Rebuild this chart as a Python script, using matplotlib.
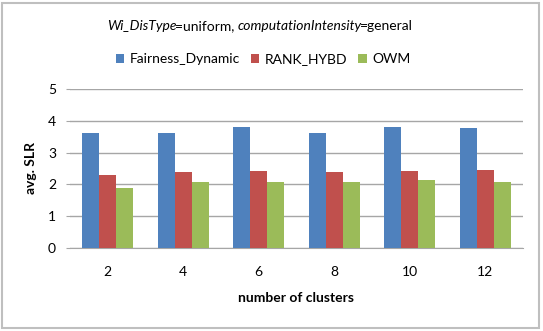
import matplotlib
matplotlib.use("Agg")
import matplotlib.pyplot as plt
import numpy as np
from matplotlib.patches import Rectangle

clusters = ["2", "4", "6", "8", "10", "12"]
fairness_dynamic = [3.63, 3.61, 3.82, 3.63, 3.80, 3.77]
rank_hybd = [2.31, 2.38, 2.43, 2.38, 2.42, 2.46]
owm = [1.89, 2.06, 2.08, 2.06, 2.13, 2.07]
series_names = ["Fairness_Dynamic", "RANK_HYBD", "OWM"]
colors = ["#4F81BD", "#C0504D", "#9BBB59"]

plt.rcParams['font.family'] = ['Lato', 'DejaVu Sans']

W, H = 543, 331
fig = plt.figure(figsize=(W / 100, H / 100), dpi=100)
fig.patch.set_facecolor("white")

# outer border
fig.add_artist(Rectangle((2 / W, 3 / H), 537 / W, 325 / H, transform=fig.transFigure,
                         fill=False, edgecolor="#BFBFBF", linewidth=1.5))

ax = fig.add_axes([70 / W, 1 - 248 / H, (523 - 70) / W, (248 - 89) / H])
x = np.arange(len(clusters))
bw = 0.225
data = [fairness_dynamic, rank_hybd, owm]
for i, (vals, c, n) in enumerate(zip(data, colors, series_names)):
    ax.bar(x + (i - 1) * bw, vals, bw, color=c, label=n, zorder=3)

ax.set_xlim(-0.5, len(clusters) - 0.5)
ax.set_ylim(0, 5)
ax.set_yticks(range(6))
ax.yaxis.grid(True, color="#A6A6A6", linewidth=1, zorder=0)
for s in ["top", "right", "left"]:
    ax.spines[s].set_visible(False)
ax.spines["bottom"].set_color("#A6A6A6")
ax.set_xticks(x)
ax.set_xticklabels(clusters)
ax.tick_params(axis="x", length=0, pad=13, labelsize=10)
ax.tick_params(axis="y", length=3, color="#A6A6A6", labelsize=10, pad=7)
ax.set_xlabel("number of clusters", fontweight="bold", fontsize=10, labelpad=10)
ax.set_ylabel("avg. SLR", fontweight="bold", fontsize=10, labelpad=8)

# title with mixed italic
parts = [("Wi_DisType", "italic"), ("=uniform, ", "normal"),
         ("computationIntensity", "italic"), ("=general", "normal")]
fig.canvas.draw()
r = fig.canvas.get_renderer()
texts = []
total = 0
for s, st in parts:
    t = fig.text(0, 1 - 26 / H, s, fontstyle=st, fontsize=10, va="center", ha="left")
    w = t.get_window_extent(r).width
    if st == "italic":
        w -= 1.5
    texts.append((t, w))
    total += w
cx = 260 - total / 2
for t, w in texts:
    t.set_x(cx / W)
    cx += w

leg = fig.legend(loc="center", bbox_to_anchor=(263 / W, 1 - 59 / H), ncol=3,
                 frameon=False, fontsize=10, handlelength=0.6, handleheight=0.6,
                 handletextpad=0.4, columnspacing=0.8)

fig.savefig("out.png", dpi=100)
